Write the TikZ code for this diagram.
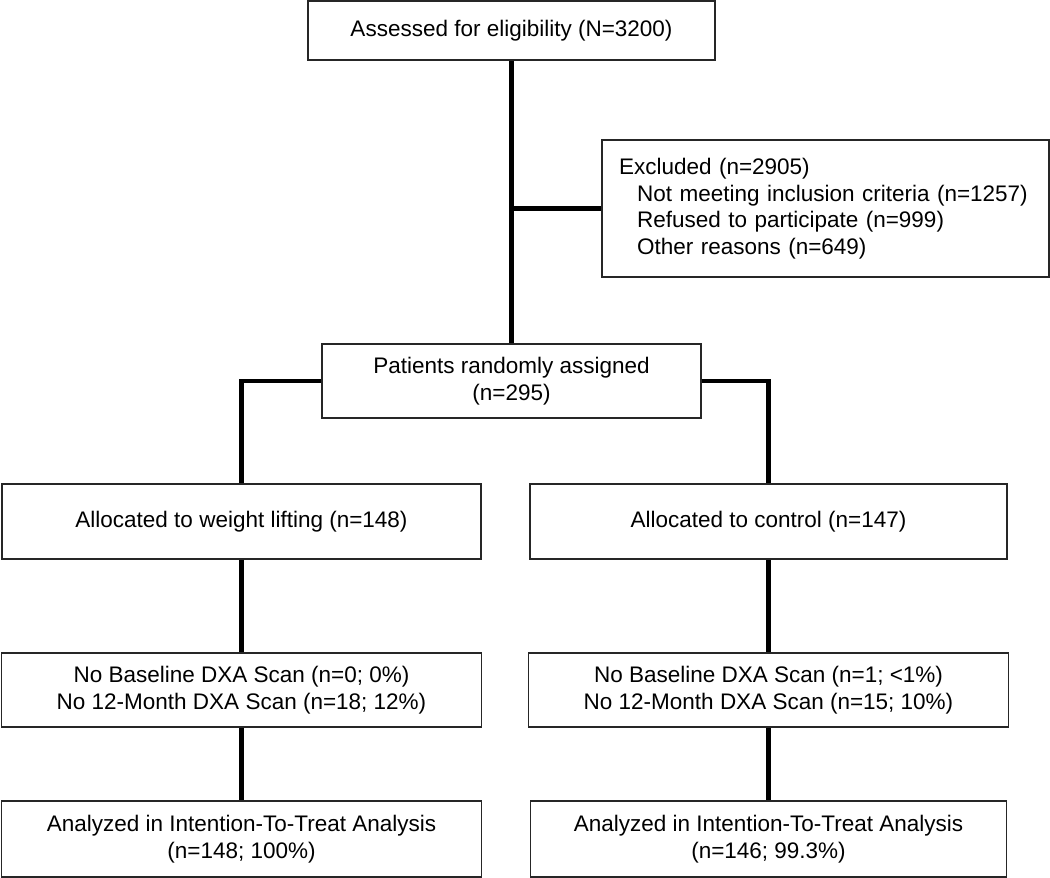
\documentclass[tikz,border=0pt]{standalone}
\usepackage{fontspec}
\setmainfont{Liberation Sans}
\begin{document}
\begin{tikzpicture}[x=1pt,y=-1pt,
  box/.style={draw=black!85, line width=1.6pt, fill=white, inner sep=0pt, align=center,
    font=\fontsize{22.5}{26.5}\selectfont},
  conn/.style={line width=4.2pt, black}]
\useasboundingbox (0,0) rectangle (1050,878);
% nodes
\node[box, minimum width=407pt, minimum height=59pt] (assess) at (511.5,30.5)
  {Assessed for eligibility (N=3200)};
\node[box, align=left, text width=413pt, inner xsep=17pt, minimum height=137pt] (excl) at (825.5,208.5)
  {Excluded (n=2905)\\
   \hspace*{18pt}Not meeting inclusion criteria (n=1257)\\
   \hspace*{18pt}Refused to participate (n=999)\\
   \hspace*{18pt}Other reasons (n=649)};
\node[box, minimum width=379pt, minimum height=74pt] (rand) at (511.5,381)
  {Patients randomly assigned\\(n=295)};
\node[box, minimum width=479pt, minimum height=75pt] (allocL) at (241.5,521.5)
  {Allocated to weight lifting (n=148)};
\node[box, minimum width=477pt, minimum height=75pt] (allocR) at (768.5,521.5)
  {Allocated to control (n=147)};
\node[box, minimum width=480pt, minimum height=74pt] (dxaL) at (241.5,690)
  {No Baseline DXA Scan (n=0; 0\%)\\No 12-Month DXA Scan (n=18; 12\%)};
\node[box, minimum width=480pt, minimum height=74pt] (dxaR) at (768.5,690)
  {No Baseline DXA Scan (n=1; <1\%)\\No 12-Month DXA Scan (n=15; 10\%)};
\node[box, minimum width=480pt, minimum height=76pt] (anL) at (241.5,839)
  {Analyzed in Intention-To-Treat Analysis\\(n=148; 100\%)};
\node[box, minimum width=476pt, minimum height=76pt] (anR) at (768.5,839)
  {Analyzed in Intention-To-Treat Analysis\\(n=146; 99.3\%)};
% connectors
\coordinate (br) at (assess.south |- excl.west);
\draw[conn] (assess.south) -- (rand.north);
\draw[conn] (br) -- (excl.west);
\draw[conn] (rand.west) -| (allocL.north);
\draw[conn] (rand.east) -| (allocR.north);
\draw[conn] (allocL.south) -- (dxaL.north);
\draw[conn] (allocR.south) -- (dxaR.north);
\draw[conn] (dxaL.south) -- (anL.north);
\draw[conn] (dxaR.south) -- (anR.north);
\end{tikzpicture}
\end{document}
